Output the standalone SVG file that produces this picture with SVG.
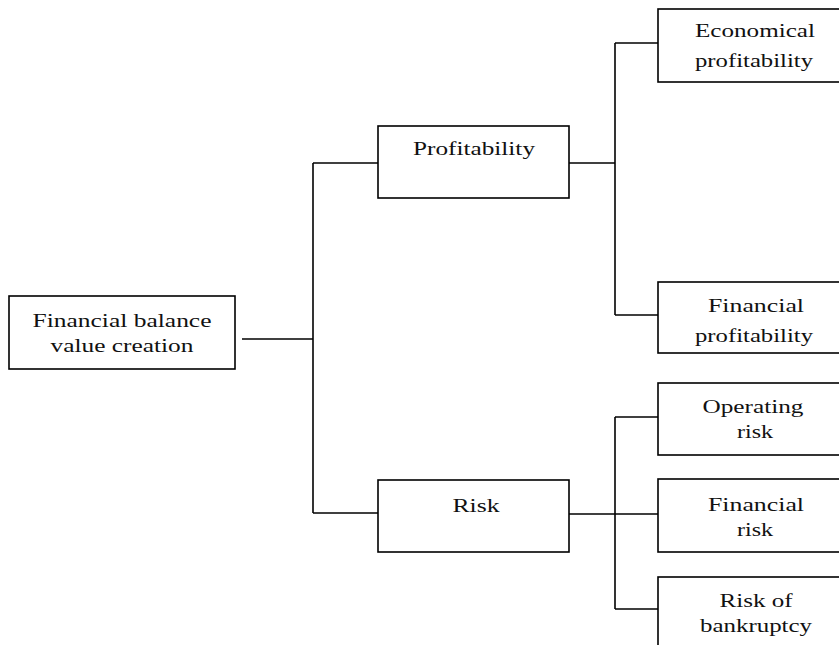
<svg xmlns="http://www.w3.org/2000/svg" width="839" height="645" viewBox="0 0 839 645">
<style>
rect{fill:#fff;stroke:#000;stroke-width:1.6}
.c line{stroke:#000;stroke-width:1.6}
text{font-family:"Liberation Serif","Times New Roman",serif;font-size:19px;fill:#111;text-anchor:middle}
</style>
<rect x="0" y="0" width="839" height="645" style="stroke:none"/>
<g class="c" id="connectors">
<line x1="242" y1="339" x2="313" y2="339"/>
<line x1="313" y1="163" x2="313" y2="513"/>
<line x1="313" y1="163" x2="378" y2="163"/>
<line x1="313" y1="513" x2="378" y2="513"/>
<line x1="569" y1="163" x2="615" y2="163"/>
<line x1="615" y1="43" x2="615" y2="315"/>
<line x1="615" y1="43" x2="658" y2="43"/>
<line x1="615" y1="315" x2="658" y2="315"/>
<line x1="569" y1="514" x2="658" y2="514"/>
<line x1="615" y1="417" x2="615" y2="609"/>
<line x1="615" y1="417" x2="658" y2="417"/>
<line x1="615" y1="609" x2="658" y2="609"/>
</g>
<g id="root"><rect x="9" y="296" width="226" height="73"/>
<text x="122" y="327" textLength="179" lengthAdjust="spacingAndGlyphs">Financial balance</text>
<text x="122" y="352" textLength="143" lengthAdjust="spacingAndGlyphs">value creation</text></g>
<g id="profitability"><rect x="378" y="126" width="191" height="72"/>
<text x="474" y="155" textLength="122" lengthAdjust="spacingAndGlyphs">Profitability</text></g>
<g id="risk"><rect x="378" y="480" width="191" height="72"/>
<text x="476" y="512" textLength="47" lengthAdjust="spacingAndGlyphs">Risk</text></g>
<g id="economical"><rect x="658" y="9" width="191" height="73"/>
<text x="755" y="37" textLength="120" lengthAdjust="spacingAndGlyphs">Economical</text>
<text x="754" y="67" textLength="118" lengthAdjust="spacingAndGlyphs">profitability</text></g>
<g id="finprof"><rect x="658" y="282" width="191" height="71"/>
<text x="756" y="312" textLength="96" lengthAdjust="spacingAndGlyphs">Financial</text>
<text x="754" y="342" textLength="118" lengthAdjust="spacingAndGlyphs">profitability</text></g>
<g id="operating"><rect x="658" y="383" width="191" height="72"/>
<text x="753" y="413" textLength="101" lengthAdjust="spacingAndGlyphs">Operating</text>
<text x="755" y="438" textLength="36" lengthAdjust="spacingAndGlyphs">risk</text></g>
<g id="finrisk"><rect x="658" y="479" width="191" height="73"/>
<text x="756" y="511" textLength="96" lengthAdjust="spacingAndGlyphs">Financial</text>
<text x="755" y="536" textLength="36" lengthAdjust="spacingAndGlyphs">risk</text></g>
<g id="bankruptcy"><rect x="658" y="577" width="191" height="80"/>
<text x="756" y="607" textLength="73" lengthAdjust="spacingAndGlyphs">Risk of</text>
<text x="756" y="632" textLength="112" lengthAdjust="spacingAndGlyphs">bankruptcy</text></g>
</svg>
